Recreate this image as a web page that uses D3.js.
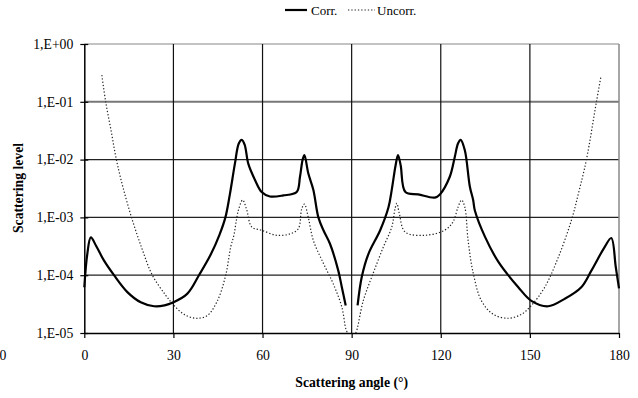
<!DOCTYPE html>
<html>
<head>
<meta charset="utf-8">
<script src="https://cdn.jsdelivr.net/npm/d3@7"></script>
<style>
  html, body { margin: 0; padding: 0; background: #fff; }
  svg text { font-family: "Liberation Serif", "Times New Roman", Times, "DejaVu Serif", serif !important; fill: #000; }
</style>
</head>
<body>
<div id="chart"></div>
<script>
// x ticks (the -30 label sits off the plot and is cut by the page edge)
const xTicks = [-30, 0, 30, 60, 90, 120, 150, 180];
const yTicks = [1, 1e-1, 1e-2, 1e-3, 1e-4, 1e-5];
const yTickLabels = ["1,E+00", "1,E-01", "1,E-02", "1,E-03", "1,E-04", "1,E-05"];

// Corr. — null angle breaks the curve around 90 degrees
const corrAngle = [0, 1, 2.2, 4, 6.6, 10, 14.5, 19, 23.5, 27, 30, 34.7, 38.6, 42.6, 45.5, 47.5, 49, 50.7, 52, 53, 54, 55.2, 57.5, 59.7, 62.5, 67, 71.5, 72.6, 73.5, 74.1, 75.4, 77.1, 78.8, 80.5, 82.7, 85.5, 86.7, 88,
  null,
  92, 93.4, 95.6, 99.6, 102.4, 103.5, 104.8, 105.6, 106.5, 108.1, 112.4, 118, 119.7, 123, 124.7, 125.8, 126.7, 128.1, 129.8, 130.9, 131.5, 134.9, 139.4, 146.1, 150.5, 156.1, 161.7, 167.3, 170.7, 175.2, 177.4, 178.9, 180];
const corrLevel = [6.2e-5, 2.3e-4, 4.5e-4, 3.2e-4, 1.8e-4, 1.0e-4, 5.1e-5, 3.4e-5, 2.9e-5, 3.0e-5, 3.4e-5, 4.8e-5, 1.0e-4, 2.3e-4, 5.0e-4, 1.0e-3, 2.5e-3, 8.5e-3, 1.9e-2, 2.2e-2, 1.8e-2, 8.5e-3, 4.4e-3, 2.75e-3, 2.3e-3, 2.4e-3, 2.75e-3, 5.0e-3, 1.0e-2, 1.2e-2, 5.8e-3, 3.0e-3, 1.0e-3, 6.0e-4, 3.5e-4, 1.2e-4, 6.2e-5, 3.0e-5,
  null,
  3.0e-5, 9.3e-5, 2.3e-4, 6.0e-4, 1.5e-3, 3.0e-3, 8.0e-3, 1.2e-2, 8.0e-3, 2.75e-3, 2.5e-3, 2.2e-3, 2.5e-3, 5.0e-3, 1.1e-2, 1.9e-2, 2.2e-2, 1.45e-2, 3.4e-3, 2.0e-3, 1.3e-3, 4.6e-4, 1.7e-4, 6.2e-5, 3.6e-5, 2.9e-5, 3.9e-5, 6.2e-5, 1.2e-4, 3.1e-4, 4.4e-4, 1.4e-4, 5.9e-5];

// Uncorr.
const uncorrAngle = [5.9, 7.2, 9, 10.8, 13.1, 16.2, 19.5, 22.9, 27.4, 30.2, 33.6, 37.5, 41.4, 44.8, 47.6, 49.3, 50.4, 51.2, 52, 53.3, 54.6, 56.4, 59.7, 64.8, 69.3, 72, 73.2, 74.1, 75.4, 77.1, 80.5, 83.8, 86.7, 88, 88.6,
  null,
  91.4, 91.9, 93.9, 97.3, 100.7, 103.5, 104.6, 105.2, 106, 108, 114.6, 121.3, 124.1, 125.8, 127, 128.1, 129.2, 130.9, 133.7, 137.7, 142.7, 147.1, 150.5, 155, 159.5, 164, 166.5, 169, 172.4, 173.9];
const uncorrLevel = [2.9e-1, 1.0e-1, 3.2e-2, 1.0e-2, 3.2e-3, 8.9e-4, 2.8e-4, 1.0e-4, 4.5e-5, 3.0e-5, 2.1e-5, 1.8e-5, 2.0e-5, 3.6e-5, 1.0e-4, 3.1e-4, 5.0e-4, 9.0e-4, 1.4e-3, 2.0e-3, 1.4e-3, 6.8e-4, 6.0e-4, 4.9e-4, 5.2e-4, 6.3e-4, 1.4e-3, 1.7e-3, 1.0e-3, 4.0e-4, 1.6e-4, 7.1e-5, 2.8e-5, 1.2e-5, 1.0e-5,
  null,
  1.0e-5, 1.2e-5, 3.6e-5, 1.1e-4, 3.1e-4, 6.8e-4, 1.4e-3, 1.75e-3, 1.2e-3, 5.6e-4, 4.9e-4, 6.0e-4, 8.3e-4, 1.5e-3, 2.0e-3, 1.5e-3, 4.0e-4, 1.1e-4, 3.6e-5, 2.1e-5, 1.8e-5, 2.1e-5, 3.0e-5, 6.2e-5, 2.0e-4, 9.0e-4, 2.8e-3, 9.8e-3, 1.0e-1, 2.7e-1];

const W = 638, H = 398;
const margin = { top: 44, right: 19, bottom: 65, left: 84.3 };
const width = W - margin.left - margin.right;
const height = H - margin.top - margin.bottom;
const serif = '"Liberation Serif", "Times New Roman", Times, serif';

const svg = d3.select('#chart')
  .append('svg')
  .attr('width', W)
  .attr('height', H)
  .attr('font-family', serif);

const g = svg.append('g')
  .attr('transform', `translate(${margin.left},${margin.top})`);

const x = d3.scaleLinear().domain([0, 180]).range([0, width]);
const y = d3.scaleLog().domain([1e-5, 1]).range([height, 0]);

// grid
g.append('g')
  .selectAll('line')
  .data(yTicks.filter(v => v !== 1e-5))
  .join('line')
  .attr('x1', 0).attr('x2', width)
  .attr('y1', d => y(d)).attr('y2', d => y(d))
  .attr('stroke', d => d === 1 ? '#888' : (d === 1e-1 ? '#777' : '#222'))
  .attr('stroke-width', d => d === 1e-1 ? 2 : 1.2);

g.append('g')
  .selectAll('line')
  .data(xTicks.filter(v => v > 0))
  .join('line')
  .attr('x1', d => x(d)).attr('x2', d => x(d))
  .attr('y1', 0).attr('y2', height)
  .attr('stroke', d => d === 180 ? '#888' : '#111')
  .attr('stroke-width', d => d === 180 ? 1.5 : 1.2);

// axes
const xAxis = g.append('g')
  .attr('transform', `translate(0,${height})`)
  .call(d3.axisBottom(x).tickValues(xTicks).tickSize(5).tickSizeOuter(0).tickFormat(d3.format('d')));
xAxis.attr('font-family', serif).attr('font-size', 13.7);
xAxis.select('.domain').attr('stroke', '#000').attr('stroke-width', 1.5);
xAxis.selectAll('.tick line').attr('stroke', '#000').attr('stroke-width', 1.2);
xAxis.selectAll('.tick text').attr('y', 17);

const yAxis = g.append('g')
  .call(d3.axisLeft(y).tickValues(yTicks).tickSize(4).tickSizeOuter(0).tickFormat((d, i) => yTickLabels[i]));
yAxis.attr('font-family', serif).attr('font-size', 13.7);
yAxis.select('.domain').attr('stroke', '#000').attr('stroke-width', 1.5);
yAxis.selectAll('.tick line').attr('stroke', '#000').attr('stroke-width', 1.2).attr('x2', 4).attr('x1', -4);
yAxis.selectAll('.tick text').attr('x', -11);

// series
const toPoints = (angles, levels) => angles.map((a, i) => ({ a: a, v: levels[i] }));
const line = d3.line()
  .defined(d => d.a != null && d.v != null)
  .x(d => x(d.a))
  .y(d => y(d.v))
  .curve(d3.curveCatmullRom.alpha(0.5));

g.append('path')
  .datum(toPoints(uncorrAngle, uncorrLevel))
  .attr('d', line)
  .attr('fill', 'none')
  .attr('stroke', '#222')
  .attr('stroke-width', 1.2)
  .attr('stroke-dasharray', '1.3,2');

g.append('path')
  .datum(toPoints(corrAngle, corrLevel))
  .attr('d', line)
  .attr('fill', 'none')
  .attr('stroke', '#000')
  .attr('stroke-width', 2.2)
  .attr('stroke-linejoin', 'round');

// titles
svg.append('text')
  .attr('x', margin.left + x(90))
  .attr('y', 387)
  .attr('text-anchor', 'middle')
  .attr('font-weight', 'bold')
  .attr('font-size', 13.7)
  .text('Scattering angle (°)');

svg.append('text')
  .attr('transform', 'translate(23,188) rotate(-90)')
  .attr('text-anchor', 'middle')
  .attr('font-weight', 'bold')
  .attr('font-size', 13.7)
  .text('Scattering level');

// legend
const legend = svg.append('g');
legend.append('line')
  .attr('x1', 285).attr('x2', 307).attr('y1', 10).attr('y2', 10)
  .attr('stroke', '#000').attr('stroke-width', 2.2);
legend.append('text')
  .attr('x', 311).attr('y', 15)
  .attr('font-size', 13)
  .text('Corr.');
legend.append('line')
  .attr('x1', 348).attr('x2', 375).attr('y1', 10).attr('y2', 10)
  .attr('stroke', '#222').attr('stroke-width', 1.2).attr('stroke-dasharray', '1.3,2');
legend.append('text')
  .attr('x', 377).attr('y', 15)
  .attr('font-size', 13)
  .text('Uncorr.');
</script>
</body>
</html>
